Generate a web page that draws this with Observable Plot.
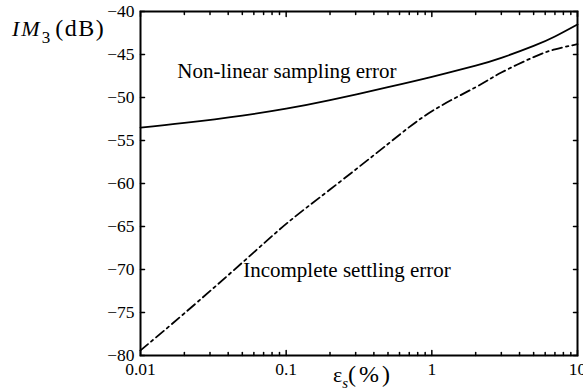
<!DOCTYPE html>
<html><head><meta charset="utf-8">
<script src="https://cdn.jsdelivr.net/npm/d3@7"></script>
<script src="https://cdn.jsdelivr.net/npm/@observablehq/plot@0.6"></script>
<style>
html,body{margin:0;padding:0;background:#fff;}
#chart svg{overflow:visible;}
</style></head><body><div id="chart"></div>
<script>
// ε_s (%) sample positions
const epsilon = [0.01, 0.02, 0.05, 0.1, 0.2, 0.5, 1, 2, 3, 5, 7, 10];
// Non-linear sampling error (dB)
const nonLinear = [-53.5, -52.95, -52.1, -51.3, -50.3, -48.8, -47.6, -46.3, -45.4, -44.0, -42.9, -41.5];
// Incomplete settling error (dB)
const settling = [-79.4, -75.1, -69.2, -64.7, -60.7, -55.4, -51.6, -48.8, -47.1, -45.3, -44.4, -43.8];
const yTicks = [-80, -75, -70, -65, -60, -55, -50, -45, -40];
const xMajor = [0.01, 0.1, 1, 10];
const xMinorMult = [2, 3, 4, 5, 6, 7, 8, 9];
const labels = [
  {x: 0.0179, y: -46.9, text: "Non-linear sampling error"},
  {x: 0.0507, y: -70.1, text: "Incomplete settling error"}
];

const xMinor = xMajor.slice(0, -1).flatMap(d => xMinorMult.map(k => k * d));
const nlData = epsilon.map((e, i) => ({e, v: nonLinear[i]}));
const isData = epsilon.map((e, i) => ({e, v: settling[i]}));
const tickShape = {draw(ctx, l) { ctx.moveTo(0, 0); ctx.lineTo(0, -l); }};
const tk = (data, opts) => Plot.vector(data, {anchor: "start", shape: tickShape, stroke: "black", strokeWidth: 1.5, ...opts});
const ff = "'Liberation Serif', 'Times New Roman', Times, serif";

const chart = Plot.plot({
  width: 583,
  height: 390,
  marginLeft: 140,
  marginRight: 6,
  marginTop: 11,
  marginBottom: 35,
  style: {fontFamily: ff, fontSize: "17px", background: "#fff", color: "black"},
  x: {type: "log", domain: [0.01, 10]},
  y: {domain: [-80, -40]},
  marks: [
    Plot.axisY({ticks: yTicks, tickSize: 0, tickPadding: 6, label: null, fontSize: 17.5}),
    Plot.axisX({ticks: xMajor, tickSize: 0, tickPadding: 7, tickFormat: d => String(d), label: null, fontSize: 17.5}),
    // inward ticks
    tk(yTicks, {y: d => d, frameAnchor: "left", rotate: 90, length: 4}),
    tk(yTicks, {y: d => d, frameAnchor: "right", rotate: -90, length: 4}),
    tk(xMajor, {x: d => d, frameAnchor: "bottom", rotate: 0, length: 5}),
    tk(xMinor, {x: d => d, frameAnchor: "bottom", rotate: 0, length: 3}),
    tk(xMajor, {x: d => d, frameAnchor: "top", rotate: 180, length: 5}),
    tk(xMinor, {x: d => d, frameAnchor: "top", rotate: 180, length: 3}),
    Plot.line(nlData, {x: "e", y: "v", stroke: "black", strokeWidth: 1.8, curve: "natural"}),
    Plot.line(isData, {x: "e", y: "v", stroke: "black", strokeWidth: 1.8, curve: "natural", strokeDasharray: "10,4,2.5,4"}),
    Plot.text(labels, {x: "x", y: "y", text: "text", textAnchor: "start", fontSize: 21, fill: "black"}),
    Plot.frame({stroke: "black", strokeWidth: 2})
  ]
});
document.getElementById("chart").appendChild(chart);

const svg = d3.select(chart);
// y-axis title: IM_3(dB)
const yt = svg.append("text").attr("x", 12).attr("y", 36).attr("text-anchor", "start")
  .attr("font-family", ff).attr("font-size", 22).attr("fill", "black");
yt.append("tspan").attr("font-style", "italic").attr("letter-spacing", 2).text("IM");
yt.append("tspan").attr("dy", 7).attr("font-size", 17).text("3");
yt.append("tspan").attr("dy", -7).attr("dx", 5).attr("font-size", 24).attr("letter-spacing", 1.5).text("(dB)");
// x-axis title: ε_s(%)
const xt = svg.append("text").attr("x", 333).attr("y", 382).attr("text-anchor", "start")
  .attr("font-family", ff).attr("font-size", 22).attr("fill", "black");
xt.append("tspan").text("ε");
xt.append("tspan").attr("dy", 6).attr("font-size", 15).attr("font-style", "italic").text("s");
xt.append("tspan").attr("dy", -6).attr("font-size", 24).attr("letter-spacing", 3).text("(%)");
</script>
</body></html>
